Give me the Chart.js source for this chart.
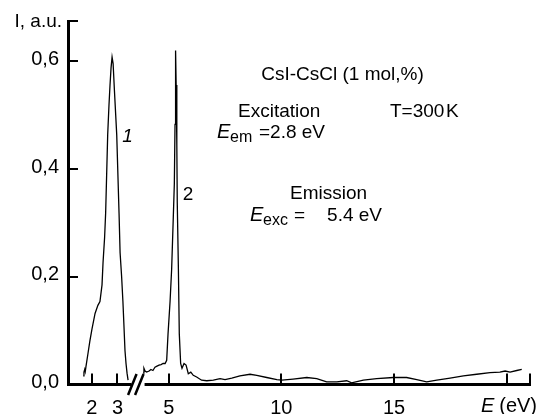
<!DOCTYPE html>
<html>
<head>
<meta charset="utf-8">
<script src="https://cdn.jsdelivr.net/npm/chart.js@4/dist/chart.umd.min.js"></script>
<style>
    body { margin: 0; background: #fff; }
</style>
</head>
<body>
<canvas id="grafico" width="539" height="414"></canvas>
<script>
// curva 1: excitacion (E en eV, I en u.a.)
const excE = [1.67, 1.70, 1.73, 1.75, 1.78, 1.86, 1.93, 2.01, 2.13, 2.24, 2.32, 2.40, 2.44, 2.50, 2.54, 2.58, 2.62, 2.67, 2.71, 2.75, 2.79,
              2.83, 2.88, 2.97, 3.06, 3.10, 3.16, 3.21, 3.25, 3.29, 3.33, 3.37, 3.41];
const excI = [0.016, 0.023, 0.028, 0.024, 0.034, 0.059, 0.081, 0.103, 0.132, 0.147, 0.154, 0.185, 0.227, 0.273, 0.318, 0.391, 0.464, 0.519, 0.556, 0.588, 0.608,
              0.596, 0.547, 0.464, 0.318, 0.245, 0.200, 0.154, 0.109, 0.063, 0.039, 0.021, 0.008];

// curva 2: emision
const emiE = [3.86, 3.90, 3.95, 4.02, 4.13, 4.21, 4.30, 4.39, 4.48, 4.57, 4.66, 4.75, 4.84, 4.91, 4.97, 5.06, 5.13, 5.20, 5.25, 5.28, 5.30, 5.31,
              5.33, 5.36, 5.38, 5.43, 5.47, 5.53, 5.59, 5.68, 5.77, 5.87, 5.98, 6.09, 6.24, 6.46, 6.69, 6.98, 7.28, 7.50, 7.80, 8.16, 8.61,
              8.91, 9.35, 9.80, 10.02, 10.52, 11.13, 11.57, 12.01, 12.46, 12.90, 13.12, 13.64, 14.23, 14.97, 15.56, 16.01, 16.45, 16.90,
              17.49, 18.08, 18.67, 19.26, 19.70, 19.93, 20.15, 20.45, 20.67];
const emiI = [0.021, 0.030, 0.025, 0.023, 0.025, 0.028, 0.026, 0.032, 0.034, 0.036, 0.037, 0.039, 0.039, 0.045, 0.094, 0.154, 0.214, 0.306, 0.373, 0.483, 0.574, 0.620,
              0.556, 0.446, 0.337, 0.214, 0.094, 0.039, 0.030, 0.039, 0.036, 0.020, 0.023, 0.017, 0.014, 0.008, 0.007, 0.008, 0.011, 0.009, 0.012, 0.016, 0.019,
              0.017, 0.013, 0.009, 0.008, 0.010, 0.013, 0.011, 0.005, 0.005, 0.007, 0.003, 0.008, 0.011, 0.013, 0.013, 0.009, 0.005, 0.008,
              0.012, 0.016, 0.019, 0.022, 0.023, 0.025, 0.023, 0.026, 0.028];

const xTicks = [2, 3, 5, 10, 15, 20];
const yTicks = [0, 0.2, 0.4, 0.6];

// eje roto: por debajo del corte la escala se comprime
const CORTE = 3.64;
function aEje(e) {
    return e < CORTE ? 1.582 + 1.145 * (e - 2) : e;
}

class EjeRoto extends Chart.LinearScale {
    getPixelForValue(value) {
        return super.getPixelForValue(aEje(value));
    }
}
EjeRoto.id = 'roto';
EjeRoto.defaults = Chart.LinearScale.defaults;
Chart.register(EjeRoto);

const FUENTE = '"Liberation Sans", Arial, sans-serif';
Chart.defaults.font.family = FUENTE;
Chart.defaults.color = '#000';

function texto(ctx, s, x, y, size, estilo, align) {
    ctx.font = (estilo || '') + ' ' + size + 'px ' + FUENTE;
    ctx.textAlign = align || 'left';
    ctx.textBaseline = 'alphabetic';
    ctx.fillText(s, x, y);
}

const marcas = {
    id: 'marcas',
    afterDraw(chart) {
        const { ctx, chartArea: a, scales: { x, y } } = chart;
        ctx.save();
        ctx.strokeStyle = '#000';
        ctx.fillStyle = '#000';
        ctx.lineWidth = 2;
        ctx.beginPath();
        x.ticks.forEach(t => {
            const px = Math.round(x.getPixelForValue(t.value));
            ctx.moveTo(px, a.bottom);
            ctx.lineTo(px, a.bottom - 11);
        });
        ctx.moveTo(a.right, a.bottom);
        ctx.lineTo(a.right, a.bottom - 11);
        yTicks.slice(1).concat([y.max]).forEach(v => {
            const py = Math.round(y.getPixelForValue(v));
            ctx.moveTo(a.left, py);
            ctx.lineTo(a.left + 10, py);
        });
        ctx.stroke();

        // corte del eje
        const bx = x.getPixelForValue(CORTE);
        ctx.fillStyle = '#fff';
        ctx.fillRect(bx - 6.5, a.bottom - 3, 13, 6);
        ctx.fillStyle = '#000';
        ctx.lineWidth = 2.5;
        ctx.beginPath();
        ctx.moveTo(bx - 10, a.bottom + 10.5);
        ctx.lineTo(bx - 1.5, a.bottom - 10.5);
        ctx.moveTo(bx - 3, a.bottom + 10.5);
        ctx.lineTo(bx + 5.5, a.bottom - 10.5);
        ctx.stroke();

        texto(ctx, 'I, a.u.', 62, 27, 19, '', 'right');
        texto(ctx, 'CsI-CsCl (1 mol,%)', 342.5, 80, 19, '', 'center');
        texto(ctx, 'Excitation', 238, 116.5, 19);
        texto(ctx, 'T=300', 390, 116.5, 19);
        texto(ctx, 'K', 446, 116.5, 19);
        texto(ctx, 'E', 217, 138, 20, 'italic');
        texto(ctx, 'em', 230, 141.5, 16);
        texto(ctx, '=2.8 eV', 325, 138, 19, '', 'right');
        texto(ctx, 'Emission', 290, 198.5, 19);
        texto(ctx, 'E', 250, 221, 20, 'italic');
        texto(ctx, 'exc', 263, 224.5, 16);
        texto(ctx, '=', 294, 221, 19);
        texto(ctx, '5.4 eV', 382, 221, 19, '', 'right');
        texto(ctx, '1', 127.5, 142, 19, 'italic', 'center');
        texto(ctx, '2', 188, 200, 19, '', 'center');
        texto(ctx, 'E', 481, 411.5, 20, 'italic');
        texto(ctx, '(eV)', 537, 411.5, 20, '', 'right');
        ctx.restore();
    }
};

const puntos = (xs, ys) => xs.map((e, i) => ({ x: e, y: ys[i] }));

const ctx = document.getElementById('grafico').getContext('2d');
new Chart(ctx, {
    type: 'line',
    data: {
        datasets: [{
            label: 'Excitation',
            data: puntos(excE, excI),
            borderColor: '#000',
            borderWidth: 1.3,
            pointRadius: 0,
            fill: false,
            tension: 0
        }, {
            label: 'Emission',
            data: puntos(emiE, emiI),
            borderColor: '#000',
            borderWidth: 1.3,
            pointRadius: 0,
            fill: false,
            tension: 0
        }]
    },
    options: {
        responsive: false,
        animation: false,
        layout: { padding: { left: 0, top: 14.5, right: 9, bottom: 0 } },
        plugins: { legend: { display: false }, tooltip: { enabled: false } },
        scales: {
            x: {
                type: 'roto',
                min: 0.53,
                max: 21.036,
                grid: { display: false, drawTicks: false },
                border: { display: true, color: '#000', width: 3 },
                afterBuildTicks: s => { s.ticks = xTicks.map(v => ({ value: v })); },
                afterFit: s => { s.height = 29.5; },
                ticks: {
                    autoSkip: false,
                    maxRotation: 0,
                    padding: 12,
                    font: { size: 20 },
                    callback: v => (v === 20 ? '' : String(v))
                }
            },
            y: {
                min: 0,
                max: 0.675,
                grid: { display: false, drawTicks: false },
                border: { display: true, color: '#000', width: 3 },
                afterBuildTicks: s => { s.ticks = yTicks.map(v => ({ value: v })); },
                afterFit: s => { s.width = 68; },
                ticks: {
                    padding: 9,
                    labelOffset: -2,
                    font: { size: 20 },
                    callback: v => v.toFixed(1).replace('.', ',')
                }
            }
        }
    },
    plugins: [marcas]
});
</script>
</body>
</html>
